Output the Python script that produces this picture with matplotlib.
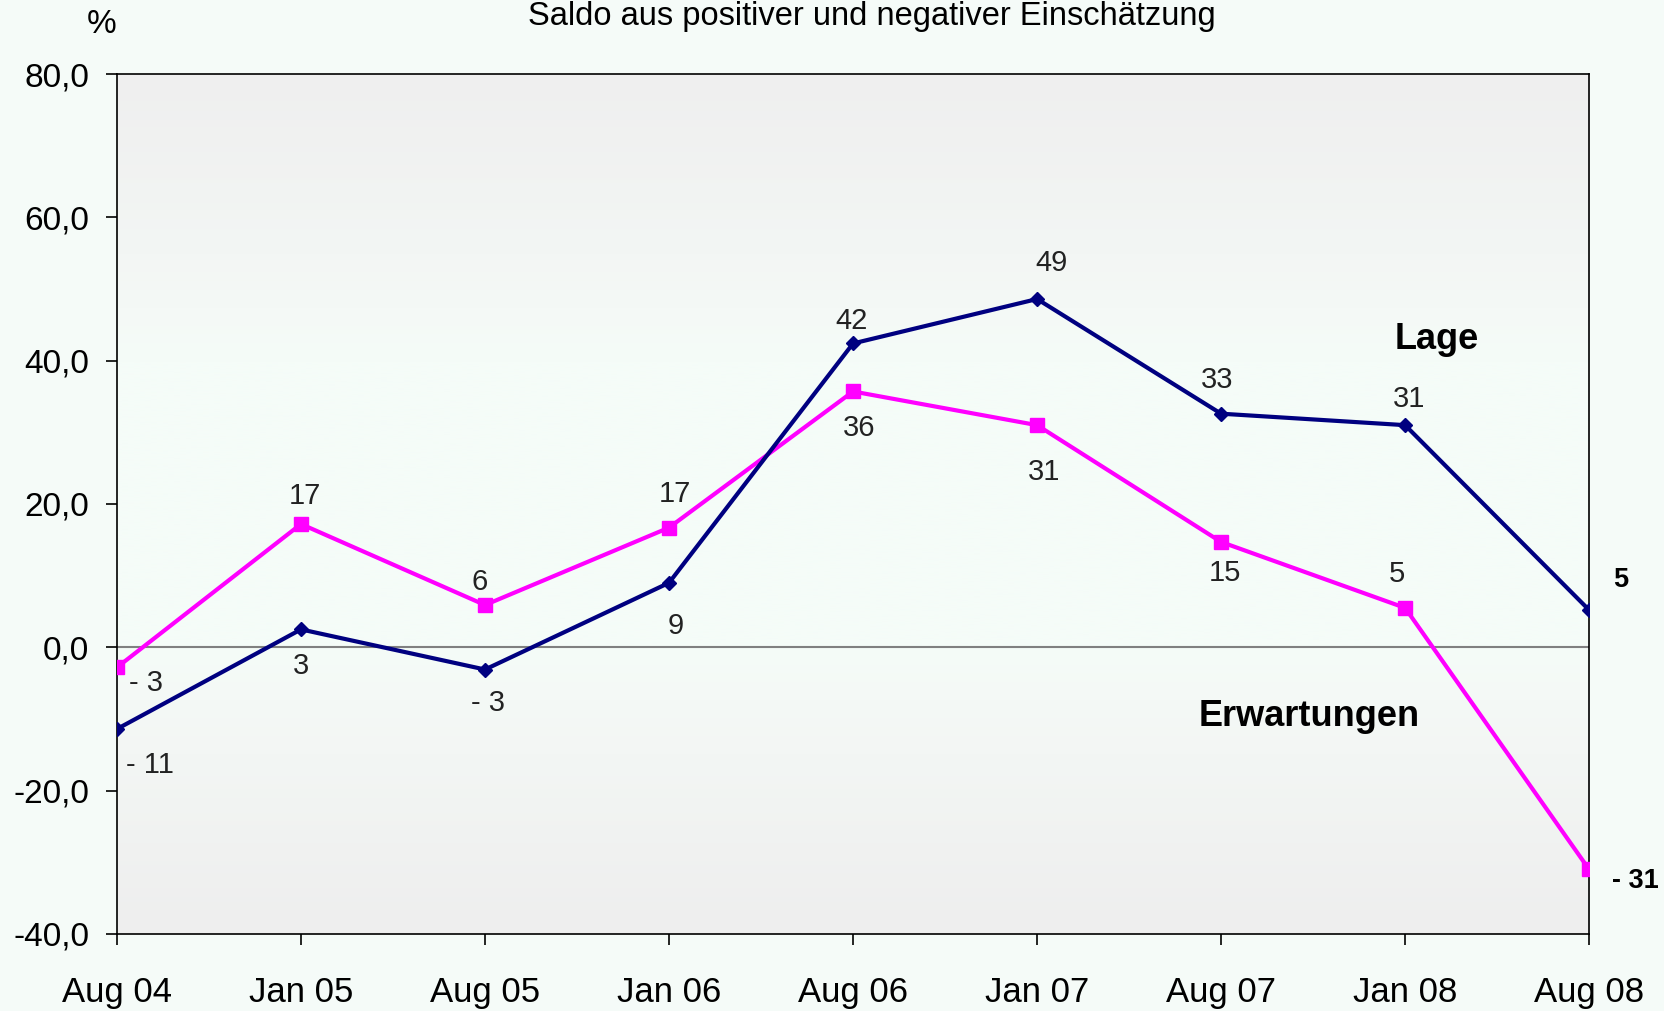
import matplotlib.pyplot as plt
import numpy as np
from matplotlib.colors import to_rgb

plt.rcParams['font.family'] = ['Liberation Sans', 'DejaVu Sans']

months = ['Aug 04', 'Jan 05', 'Aug 05', 'Jan 06', 'Aug 06', 'Jan 07', 'Aug 07', 'Jan 08', 'Aug 08']
lage = [-11.4, 2.5, -3.1, 9.0, 42.4, 48.6, 32.6, 31.0, 5.2]
lage_labels = ['- 11', '3', '- 3', '9', '42', '49', '33', '31', '5']
erwartungen = [-2.8, 17.2, 5.9, 16.7, 35.7, 31.0, 14.7, 5.5, -31.0]
erw_labels = ['- 3', '17', '6', '17', '36', '31', '15', '5', '- 31']
yticks = [-40, -20, 0, 20, 40, 60, 80]

# label offsets in pixels (dx, dy)
lage_off = [(33, -36), (0, -37), (3, -33), (7, -43), (-1, 22), (14, 36), (-4, 34), (4, 26), (32, 30)]
erw_off = [(29, -16), (4, 28), (-5, 23), (6, 34), (6, -37), (7, -47), (4, -31), (-8, 34), (46, -12)]

bg = '#F5FBF8'
fig = plt.figure(figsize=(16.64, 10.11), dpi=100, facecolor=bg)
ax = fig.add_axes([0.0703, 0.0762, 0.8847, 0.8506])
ax.set_facecolor(bg)

x = np.arange(len(months))

# soft vertical gradient of the plot area
stops = [(80, '#EFEFEF'), (55, '#F3F6F4'), (40, '#F5FCF8'), (0, '#F5FCF8'), (-15, '#F3F6F4'), (-40, '#EEEEEE')]
ys = np.linspace(80, -40, 240)
sy = [s[0] for s in stops][::-1]
cols = np.array([to_rgb(s[1]) for s in stops])[::-1]
grad = np.stack([np.interp(ys, sy, cols[:, i]) for i in range(3)], axis=-1)[:, None, :]
ax.imshow(grad, extent=[0, 8, -40, 80], aspect='auto', zorder=0, interpolation='bilinear')

ax.axhline(0, color='#808080', lw=1.5, zorder=1)

ax.plot(x, erwartungen, color='#FF00FF', lw=3, marker='s', ms=9.5, zorder=3)
ax.plot(x, lage, color='#000080', lw=3, marker='D', ms=7, zorder=4)

for i in range(len(months)):
    last = i == len(months) - 1
    size = 19.5 if last else 21
    ax.annotate(lage_labels[i], (x[i], lage[i]), xytext=lage_off[i], textcoords='offset pixels',
                ha='center', va='center', fontsize=size, color='#222222' if not last else 'black',
                fontweight='bold' if last else 'normal', annotation_clip=False)
    ax.annotate(erw_labels[i], (x[i], erwartungen[i]), xytext=erw_off[i], textcoords='offset pixels',
                ha='center', va='center', fontsize=size, color='#222222' if not last else 'black',
                fontweight='bold' if last else 'normal', annotation_clip=False)

ax.text(7.17, 43, 'Lage', fontsize=26, fontweight='bold', ha='center', va='center')
ax.text(6.48, -9.6, 'Erwartungen', fontsize=26, fontweight='bold', ha='center', va='center')

ax.set_xlim(0, 8)
ax.set_ylim(-40, 80)
ax.set_xticks(x)
ax.set_xticklabels(months, fontsize=25)
ax.set_yticks(yticks)
ax.set_yticklabels([f'{v:.1f}'.replace('.', ',') for v in yticks], fontsize=24)
ax.tick_params(axis='both', direction='out', length=8, width=1.2, color='black')
ax.tick_params(axis='x', pad=22)
ax.tick_params(axis='y', pad=12)
for s in ax.spines.values():
    s.set_linewidth(1.2)

fig.text(0.524, 0.984, 'Saldo aus positiver und negativer Einschätzung', fontsize=23.5, ha='center', va='center')
fig.text(0.061, 0.976, '%', fontsize=24, ha='center', va='center')

fig.savefig('out.png', dpi=100, facecolor=bg)
